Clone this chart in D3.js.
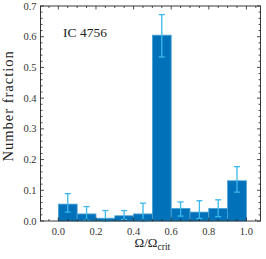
<!DOCTYPE html>
<meta charset="utf-8">
<style>
    body { margin: 0; background: #fff; }
</style>
<body>
<div id="chart"></div>
<script src="https://cdn.jsdelivr.net/npm/d3@7"></script>
<script>
    // histogram bins (left edges), heights and error bar ends
    var binStart = [0.0, 0.1, 0.2, 0.3, 0.4, 0.5, 0.6, 0.7, 0.8, 0.9];
    var fraction = [0.055, 0.023, 0.009, 0.017, 0.023, 0.605, 0.041, 0.029, 0.041, 0.131];
    var errLow   = [0.029, 0.002, 0.0, 0.005, 0.0, 0.534, 0.016, 0.008, 0.014, 0.094];
    var errHigh  = [0.089, 0.047, 0.034, 0.034, 0.058, 0.672, 0.062, 0.066, 0.069, 0.177];
    var xTicks = [0.0, 0.2, 0.4, 0.6, 0.8, 1.0];
    var yTicks = [0.0, 0.1, 0.2, 0.3, 0.4, 0.5, 0.6, 0.7];

    var width = 266, height = 259;
    var margin = {left: 40.5, right: 5.5, top: 6, bottom: 38};
    var serif = "'Liberation Serif', 'Times New Roman', serif";

    var svg = d3.select("#chart").append("svg")
        .attr("width", width)
        .attr("height", height)
        .style("font-family", serif);

    var x = d3.scaleLinear().domain([-0.095, 1.075]).range([margin.left, width - margin.right]);
    var y = d3.scaleLinear().domain([0, 0.7]).range([height - margin.bottom, margin.top]);

    var bw = 0.1;

    // bars
    svg.selectAll(".bar")
        .data(binStart)
        .enter().append("rect")
        .attr("x", function (d) { return x(d); })
        .attr("width", function (d) { return x(d + bw) - x(d); })
        .attr("y", function (d, i) { return y(fraction[i]); })
        .attr("height", function (d, i) { return y(0) - y(fraction[i]); })
        .attr("fill", "#0172ba")
        .attr("stroke", "#4aa3d6")
        .attr("stroke-width", 0.8);

    // error bars
    var errColor = "#3bb8ec";
    var eb = svg.selectAll(".err")
        .data(binStart)
        .enter().append("g");
    eb.append("line")
        .attr("x1", function (d) { return x(d + bw / 2); })
        .attr("x2", function (d) { return x(d + bw / 2); })
        .attr("y1", function (d, i) { return y(errLow[i]); })
        .attr("y2", function (d, i) { return y(errHigh[i]); })
        .attr("stroke", errColor).attr("stroke-width", 1.3);
    [errLow, errHigh].forEach(function (arr) {
        eb.append("line")
            .attr("x1", function (d) { return x(d + bw / 2) - 3; })
            .attr("x2", function (d) { return x(d + bw / 2) + 3; })
            .attr("y1", function (d, i) { return y(arr[i]); })
            .attr("y2", function (d, i) { return y(arr[i]); })
            .attr("stroke", errColor).attr("stroke-width", 1.3);
    });

    // frame
    svg.append("rect")
        .attr("x", margin.left).attr("y", margin.top)
        .attr("width", width - margin.left - margin.right)
        .attr("height", height - margin.top - margin.bottom)
        .attr("fill", "none").attr("stroke", "#222").attr("stroke-width", 0.9);

    // inward ticks on all four sides
    function xTicksAt(vals, len) {
        vals.forEach(function (v) {
            var px = x(v);
            svg.append("line").attr("x1", px).attr("x2", px)
                .attr("y1", y(0)).attr("y2", y(0) - len)
                .attr("stroke", "#222").attr("stroke-width", 0.8);
            svg.append("line").attr("x1", px).attr("x2", px)
                .attr("y1", margin.top).attr("y2", margin.top + len)
                .attr("stroke", "#222").attr("stroke-width", 0.8);
        });
    }
    function yTicksAt(vals, len) {
        vals.forEach(function (v) {
            var py = y(v);
            svg.append("line").attr("x1", margin.left).attr("x2", margin.left + len)
                .attr("y1", py).attr("y2", py)
                .attr("stroke", "#222").attr("stroke-width", 0.8);
            svg.append("line").attr("x1", width - margin.right).attr("x2", width - margin.right - len)
                .attr("y1", py).attr("y2", py)
                .attr("stroke", "#222").attr("stroke-width", 0.8);
        });
    }
    var xMinor = d3.range(-0.05, 1.08, 0.05).filter(function (v) { return Math.abs(v * 10 - Math.round(v * 10)) > 0.01 || Math.round(v * 10) % 2 !== 0; });
    var yMinor = d3.range(0.02, 0.7, 0.02).filter(function (v) { return Math.abs(v * 10 - Math.round(v * 10)) > 0.01; });
    xTicksAt(xTicks, 3.5);
    xTicksAt(xMinor, 2);
    yTicksAt(yTicks, 3.5);
    yTicksAt(yMinor, 2);

    // tick labels
    svg.selectAll(".xl")
        .data(xTicks)
        .enter().append("text")
        .attr("x", function (d) { return x(d); })
        .attr("y", y(0) + 13.5)
        .attr("text-anchor", "middle")
        .attr("fill", "#333")
        .style("font-size", "10.5px")
        .text(function (d) { return d.toFixed(1); });
    svg.selectAll(".yl")
        .data(yTicks)
        .enter().append("text")
        .attr("x", margin.left - 4)
        .attr("y", function (d) { return y(d) + 3.5; })
        .attr("text-anchor", "end")
        .attr("fill", "#333")
        .style("font-size", "10.5px")
        .text(function (d) { return d.toFixed(1); });

    // axis labels
    var xl = svg.append("text")
        .attr("x", x(0.5))
        .attr("y", height - 12)
        .attr("text-anchor", "middle")
        .attr("fill", "#222")
        .style("font-size", "13px");
    xl.append("tspan").text("Ω/Ω");
    xl.append("tspan").attr("dy", 2.5).style("font-size", "9.5px").text("crit");

    svg.append("text")
        .attr("transform", "translate(13," + y(0.375) + ") rotate(-90)")
        .attr("text-anchor", "middle")
        .attr("fill", "#222")
        .style("font-size", "14.5px")
        .style("letter-spacing", "1px")
        .text("Number fraction");

    svg.append("text")
        .attr("x", 63)
        .attr("y", 37)
        .attr("fill", "#222")
        .style("font-size", "13.5px")
        .text("IC 4756");
</script>
</body>
